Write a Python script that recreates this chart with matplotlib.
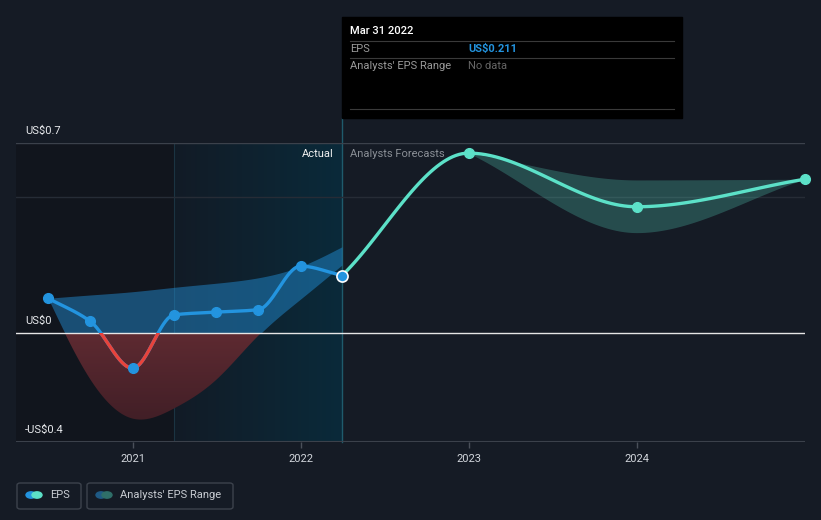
import numpy as np
import matplotlib
matplotlib.use("Agg")
import matplotlib.pyplot as plt
from matplotlib.patches import Rectangle, FancyBboxPatch, Circle
from matplotlib.colors import LinearSegmentedColormap
from datetime import date

plt.rcParams["font.family"] = ["Roboto", "DejaVu Sans"]

# ---- data ----
eps_dates = ["2020-06-30", "2020-09-30", "2020-12-31", "2021-03-31",
             "2021-06-30", "2021-09-30", "2021-12-31", "2022-03-31"]
eps_values = [0.128, 0.043, -0.129, 0.067, 0.077, 0.086, 0.246, 0.211]
past_range_low = [0.128, -0.17, -0.314, -0.277, -0.173, -0.01, 0.125, 0.25]
past_range_high = [0.128, 0.14, 0.152, 0.168, 0.183, 0.203, 0.245, 0.317]

fc_dates = ["2022-03-31", "2022-12-31", "2023-12-31", "2024-12-31"]
fc_values = [0.211, 0.661, 0.464, 0.565]
fc_band_dates = ["2022-12-31", "2023-12-31", "2024-12-31"]
fc_low = [0.661, 0.369, 0.565]
fc_high = [0.661, 0.5625, 0.565]

y_ticks = [0.7, 0.0, -0.4]
y_tick_labels = ["US$0.7", "US$0", "-US$0.4"]
x_ticks = [2021, 2022, 2023, 2024]

BG = "#151b25"
BLUE = "#2394df"
TEAL = "#5ce1c8"
RED = "#e8433b"
W, H = 821, 520


def to_year(s):
    d = date.fromisoformat(s)
    start = date(d.year, 1, 1)
    n = (date(d.year + 1, 1, 1) - start).days
    return d.year + (d - start).days / n


def hermite(x, y, m, n=40):
    xs, ys = [], []
    h = np.diff(x)
    for i in range(len(x) - 1):
        t = np.linspace(0, 1, n, endpoint=(i == len(x) - 2))
        h00 = 2 * t**3 - 3 * t**2 + 1
        h10 = t**3 - 2 * t**2 + t
        h01 = -2 * t**3 + 3 * t**2
        h11 = t**3 - t**2
        xs.append(x[i] + t * h[i])
        ys.append(h00 * y[i] + h10 * h[i] * m[i] + h01 * y[i + 1] + h11 * h[i] * m[i + 1])
    return np.concatenate(xs), np.concatenate(ys)


def monotone(x, y):
    # monotone cubic (Fritsch-Carlson) just for drawing smooth curves
    x = np.asarray(x, float)
    y = np.asarray(y, float)
    h = np.diff(x)
    d = np.diff(y) / h
    m = np.zeros_like(y)
    m[0], m[-1] = d[0], d[-1]
    for i in range(1, len(x) - 1):
        if d[i - 1] * d[i] <= 0:
            m[i] = 0
        else:
            w1 = 2 * h[i] + h[i - 1]
            w2 = h[i] + 2 * h[i - 1]
            m[i] = (w1 + w2) / (w1 / d[i - 1] + w2 / d[i])
    return hermite(x, y, m)


def natural(x, y):
    # natural cubic spline, first derivatives from the tridiagonal system
    x = np.asarray(x, float)
    y = np.asarray(y, float)
    n = len(x)
    h = np.diff(x)
    A = np.zeros((n, n))
    b = np.zeros(n)
    A[0, 0], A[0, 1] = 2 / h[0], 1 / h[0]
    b[0] = 3 * (y[1] - y[0]) / h[0]**2
    A[-1, -2], A[-1, -1] = 1 / h[-1], 2 / h[-1]
    b[-1] = 3 * (y[-1] - y[-2]) / h[-1]**2
    for i in range(1, n - 1):
        A[i, i - 1] = 1 / h[i - 1]
        A[i, i] = 2 / h[i - 1] + 2 / h[i]
        A[i, i + 1] = 1 / h[i]
        b[i] = 3 * ((y[i] - y[i - 1]) / h[i - 1]**2 + (y[i + 1] - y[i]) / h[i]**2)
    m = np.linalg.solve(A, b)
    return hermite(x, y, m)


ex = [to_year(s) for s in eps_dates]
fx_ = [to_year(s) for s in fc_dates]
bx = [to_year(s) for s in fc_band_dates]

fig = plt.figure(figsize=(W / 100, H / 100), dpi=100)
fig.patch.set_facecolor(BG)
ax = fig.add_axes([16 / W, 1 - 442 / H, 789 / W, 299.5 / H])
ax.set_facecolor(BG)
x0, x1 = 2020.3036, 2025.0
ax.set_xlim(x0, x1)
ax.set_ylim(-0.4, 0.7)
for sp in ax.spines.values():
    sp.set_visible(False)

# shaded history regions
x_start = ex[3]
x_now = ex[-1]
ax.axvspan(x0, x_start, color="#11151d", zorder=0, lw=0)
grad = np.linspace(0, 1, 256).reshape(1, -1)
cm_hist = LinearSegmentedColormap.from_list("h", ["#121b26", "#0a2a3a"])
ax.imshow(grad, extent=[x_start, x_now, -0.4, 0.7], aspect="auto",
          cmap=cm_hist, zorder=0.5, interpolation="bicubic")
ax.axvline(x_start, color="#1b3442", lw=0.8, zorder=1)
ax.plot([x_now, x_now], [-0.4, 0.7 + 24 / 272], color="#1f5b6c", lw=1,
        zorder=1, clip_on=False)

# grid lines
ax.axhline(0.7, color="#3b414b", lw=1, zorder=1)
ax.axhline(0.5, color="#262c36", lw=1, zorder=1)
ax.axhline(-0.4, color="#3b414b", lw=1.5, zorder=1)

# past analysts range
sx, slo = natural(ex, past_range_low)
_, shi = natural(ex, past_range_high)
ax.fill_between(sx, np.maximum(slo, 0), np.maximum(shi, 0), color=BLUE,
                alpha=0.45, lw=0, zorder=2)
poly = ax.fill_between(sx, np.minimum(slo, 0), np.minimum(shi, 0),
                       color="none", lw=0, zorder=2)
cm_red = LinearSegmentedColormap.from_list("r", ["#3a1c24", "#5e2a31"])
img = ax.imshow(np.linspace(0, 1, 256).reshape(-1, 1), extent=[x0, x1, -0.4, 0.0],
                origin="lower", aspect="auto", cmap=cm_red, zorder=2,
                interpolation="bicubic")
img.set_clip_path(poly.get_paths()[0], transform=ax.transData)

# forecast range
fbx, fbl = monotone(bx, fc_low)
_, fbh = monotone(bx, fc_high)
ax.fill_between(fbx, fbl, fbh, color=TEAL, alpha=0.25, lw=0, zorder=2)

# zero line
ax.axhline(0, color="#e6e6e6", lw=1, zorder=3)

# EPS lines
lx, ly = monotone(ex, eps_values)
ax.plot(lx, ly, color=BLUE, lw=2.4, zorder=4, solid_capstyle="round")
red_line, = ax.plot(lx, ly, color=RED, lw=2.4, zorder=4.1)
clip = Rectangle((x0, -0.4), x1 - x0, 0.4, transform=ax.transData)
red_line.set_clip_path(clip)
ax.plot(ex[:-1], eps_values[:-1], "o", color=BLUE, ms=7, zorder=5)
ax.plot(ex[-1], eps_values[-1], "o", color=BLUE, ms=8, mec="white",
        mew=1.2, zorder=6)

fx2, fy2 = monotone(fx_, fc_values)
ax.plot(fx2, fy2, color=TEAL, lw=2.4, zorder=4)
ax.plot(fx_[1:], fc_values[1:], "o", color=TEAL, ms=7, zorder=5,
        clip_on=False)

# axis ticks
ax.set_yticks([])
ax.set_xticks(x_ticks)
ax.set_xticklabels([str(t) for t in x_ticks], color="#d2d6dc", fontsize=8)
ax.tick_params(axis="x", colors="#4a505a", length=4, width=1, pad=5,
               labelcolor="#d2d6dc")
for val, lab in zip(y_ticks, y_tick_labels):
    ax.text(x0 + 0.055, val + 12 / 272, lab, color="#e8eaed", fontsize=8,
            va="center", ha="left", zorder=6)

ax.text(x_now - 0.05, 0.7 - 11.5 / 272, "Actual", color="#f0f0f0",
        fontsize=8, ha="right", va="center", zorder=6)
ax.text(x_now + 0.045, 0.7 - 11.5 / 272, "Analysts Forecasts",
        color="#8a8f96", fontsize=8, ha="left", va="center", zorder=6)


# tooltip box (pixel positions from the top left)
def fxp(px):
    return px / W


def fyp(py):
    return 1 - py / H


fig.patches.append(Rectangle((fxp(342), fyp(118)), 340 / W, 101 / H,
                             transform=fig.transFigure, color="black",
                             zorder=10))
for yy in (41, 58, 109):
    fig.lines.append(plt.Line2D([fxp(350), fxp(674)], [fyp(yy), fyp(yy)],
                                transform=fig.transFigure, color="#3a3a3a",
                                lw=0.8, zorder=11))
fig.text(fxp(350), fyp(31), "Mar 31 2022", color="white", fontsize=8,
         fontweight="medium", va="center", zorder=12)
fig.text(fxp(350), fyp(49), "EPS", color="#9a9a9a", fontsize=8,
         va="center", zorder=12)
fig.text(fxp(468), fyp(49), "US$" + f"{eps_values[-1]:.3f}", color=BLUE,
         fontsize=8, fontweight="bold", va="center", zorder=12)
fig.text(fxp(350), fyp(66), "Analysts' EPS Range", color="#9a9a9a",
         fontsize=8, va="center", zorder=12)
fig.text(fxp(468), fyp(66), "No data", color="#666666", fontsize=8,
         va="center", zorder=12)

# legend
for (bx0, bx1) in ((17, 81), (87, 233)):
    fig.patches.append(FancyBboxPatch((fxp(bx0), fyp(509)), (bx1 - bx0) / W,
                                      26 / H, boxstyle="round,pad=0,rounding_size=0.004",
                                      transform=fig.transFigure, fc="none",
                                      ec="#3c424c", lw=1))
for cx, col in ((31, BLUE), (37, TEAL), (101, "#1f5a85"), (107, "#2f6f69")):
    fig.patches.append(Circle((fxp(cx), fyp(495)), 5 / W,
                              transform=fig.transFigure, color=col))
fig.text(fxp(50), fyp(495), "EPS", color="#c8ccd2", fontsize=8, va="center")
fig.text(fxp(120), fyp(495), "Analysts' EPS Range", color="#c8ccd2",
         fontsize=8, va="center")

fig.savefig("out.png", dpi=100, facecolor=BG)
